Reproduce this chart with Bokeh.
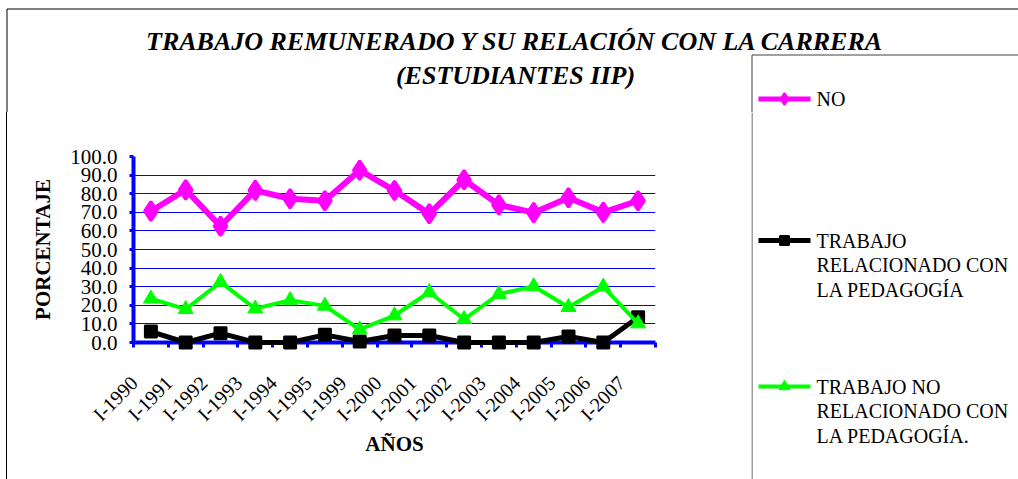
import math
from bokeh.plotting import figure
from bokeh.models import (Range1d, LinearAxis, FixedTicker, Label, PrintfTickFormatter, Grid, Div)
from bokeh.layouts import column, row
from bokeh.embed import file_html
from bokeh.resources import INLINE

# ---------------- data ----------------
categories = ["I-1990", "I-1991", "I-1992", "I-1993", "I-1994", "I-1995", "I-1999",
              "I-2000", "I-2001", "I-2002", "I-2003", "I-2004", "I-2005", "I-2006", "I-2007"]
no_vals = [70.6, 82.1, 62.5, 81.8, 77.3, 76.2, 92.6, 81.7, 69.2, 87.5, 74.0, 69.8, 77.8, 70.0, 76.2]
rel_vals = [5.9, 0.0, 5.0, 0.0, 0.0, 4.1, 0.5, 3.8, 3.8, 0.0, 0.0, 0.0, 3.2, 0.0, 13.6]
norel_vals = [23.5, 17.9, 32.5, 18.2, 22.7, 19.7, 7.0, 14.5, 27.0, 12.5, 26.0, 30.2, 19.0, 30.0, 10.2]
y_ticks = [0, 10, 20, 30, 40, 50, 60, 70, 80, 90, 100]

title_1 = "TRABAJO REMUNERADO Y SU RELACIÓN CON LA CARRERA"
title_2 = "(ESTUDIANTES IIP)"
y_title = "PORCENTAJE"
x_title = "AÑOS"
series_labels = ["NO",
                 "TRABAJO\nRELACIONADO CON\nLA PEDAGOGÍA",
                 "TRABAJO NO\nRELACIONADO CON\nLA PEDAGOGÍA."]
series_colors = ["#FF00FF", "#000000", "#00FF00"]

SERIF = "Liberation Serif"
BLUE = "#0000FF"
W = 1018
TOP_H = 112
ROW_H = 479 - TOP_H
n = len(categories)
x_pos = [i + 0.5 for i in range(n)]


def blank_fig(width, height):
    f = figure(width=width, height=height, x_range=Range1d(0, width), y_range=Range1d(height, 0),
               toolbar_location=None, output_backend="svg", min_border=0,
               x_axis_location=None, y_axis_location=None, outline_line_color=None,
               frame_align=False)
    f.grid.visible = False
    return f


legend_markers = [("diamond", 12, 2), ("square", 9, 2), ("triangle", 11, 1)]
legend_line_w = [5, 5, 4]
item_page_y = [98.5, 240, 386]


def draw_legend_item(f, k, yy):
    f.line([758, 810], [yy, yy], line_color=series_colors[k], line_width=legend_line_w[k])
    mk, sz, lw = legend_markers[k]
    f.scatter([784], [yy], marker=mk, size=sz, line_width=lw,
              fill_color=series_colors[k], line_color=series_colors[k])
    for j, txt in enumerate(series_labels[k].split("\n")):
        f.add_layout(Label(x=816, y=yy + j * 24.5, text=txt, text_font=SERIF,
                           text_font_size="20px", text_baseline="middle",
                           text_color="#000000"))


# ---------------- top strip: titles, frame borders, first legend item ----------------
top = blank_fig(W, TOP_H)
top.segment(x0=[6.5, 6.5, 751.5, 751.5], y0=[8.5, 8.5, 54.5, 54.5],
            x1=[W, 6.5, W, 751.5], y1=[8.5, TOP_H, 54.5, TOP_H],
            line_color=["#000000", "#000000", "#404040", "#404040"], line_width=1)
for txt, yy in [(title_1, 41), (title_2, 75)]:
    top.add_layout(Label(x=515, y=yy, text=txt, text_font=SERIF, text_font_style="bold italic",
                         text_font_size="26px", text_align="center", text_baseline="middle",
                         text_color="#000000"))
draw_legend_item(top, 0, item_page_y[0])

# ---------------- main chart ----------------
MAIN_W = 744
p = figure(width=MAIN_W, height=ROW_H, x_range=Range1d(0, n), y_range=Range1d(0, 100),
           x_axis_type=None, y_axis_type=None, toolbar_location=None, output_backend="svg",
           min_border_left=126, min_border_right=MAIN_W - 648, min_border_top=156 - TOP_H,
           min_border_bottom=479 - 342, frame_align=False,
           outline_line_color=None, background_fill_color="white", border_fill_color="white")

p.add_layout(Grid(dimension=1, ticker=FixedTicker(ticks=y_ticks[1:-1]),
                  grid_line_color=BLUE, grid_line_width=1))
p.add_layout(Grid(dimension=1, ticker=FixedTicker(ticks=y_ticks[-1:]),
                  grid_line_color="#e4e4f4", grid_line_width=1))

yaxis = LinearAxis(ticker=FixedTicker(ticks=y_ticks), formatter=PrintfTickFormatter(format="%.1f"),
                   axis_line_color=BLUE, axis_line_width=4,
                   major_tick_line_color=BLUE, major_tick_line_width=3,
                   major_tick_in=0, major_tick_out=4, minor_tick_line_color=None,
                   major_label_text_font=SERIF, major_label_text_font_size="21px",
                   major_label_text_color="#000000", major_label_standoff=12,
                   axis_label=y_title, axis_label_text_font=SERIF, axis_label_text_font_style="bold",
                   axis_label_text_font_size="21px", axis_label_text_color="#000000",
                   axis_label_standoff=12)
p.add_layout(yaxis, "left")

tick_pos = [round(i + 0.02, 2) for i in range(n)]
xaxis = LinearAxis(ticker=FixedTicker(ticks=tick_pos, minor_ticks=list(range(n + 1))),
                   major_label_overrides={t: c for t, c in zip(tick_pos, categories)},
                   major_label_orientation=math.pi / 4,
                   axis_line_color=BLUE, axis_line_width=4,
                   major_tick_line_color=None, major_tick_in=0, major_tick_out=5,
                   minor_tick_line_color=BLUE, minor_tick_line_width=3,
                   minor_tick_in=0, minor_tick_out=5,
                   major_label_text_font=SERIF, major_label_text_font_size="20px",
                   major_label_text_color="#000000", major_label_standoff=32,
                   axis_label=x_title, axis_label_text_font=SERIF, axis_label_text_font_style="bold",
                   axis_label_text_font_size="21px", axis_label_text_color="#000000",
                   axis_label_standoff=-4)
p.add_layout(xaxis, "below")

p.line(x_pos, no_vals, line_color=series_colors[0], line_width=6, line_join="round", level="overlay")
p.scatter(x_pos, no_vals, marker="diamond", size=19, line_width=3,
          fill_color=series_colors[0], line_color=series_colors[0], level="overlay")
p.line(x_pos, rel_vals, line_color=series_colors[1], line_width=5, line_join="round", level="overlay")
p.scatter(x_pos, rel_vals, marker="square", size=12, line_width=2,
          fill_color=series_colors[1], line_color=series_colors[1], level="overlay")
p.line(x_pos, norel_vals, line_color=series_colors[2], line_width=4, line_join="round", level="overlay")
p.scatter(x_pos, norel_vals, marker="triangle", size=15,
          fill_color=series_colors[2], line_color=series_colors[2], level="overlay")

# ---------------- legend panel (other items), in page coordinates ----------------
LEG_X0 = 751
LEG_W = W - LEG_X0
leg = figure(width=LEG_W, height=ROW_H, x_range=Range1d(LEG_X0, W), y_range=Range1d(479, TOP_H),
             toolbar_location=None, output_backend="svg", min_border=0,
             x_axis_location=None, y_axis_location=None, outline_line_color=None, frame_align=False)
leg.grid.visible = False
leg.segment(x0=[751.5], y0=[TOP_H], x1=[751.5], y1=[479], line_color="#404040", line_width=1)
draw_legend_item(leg, 1, item_page_y[1])
draw_legend_item(leg, 2, item_page_y[2])

pad = Div(text="", width=6, height=ROW_H, margin=0)
border = Div(text='<div style="width:1px;height:%dpx;background:#000000"></div>' % ROW_H,
             width=1, height=ROW_H, margin=0)

layout = column(top, row(pad, border, p, leg, spacing=0), spacing=0)
open("out.html", "w").write(file_html(layout, INLINE))
